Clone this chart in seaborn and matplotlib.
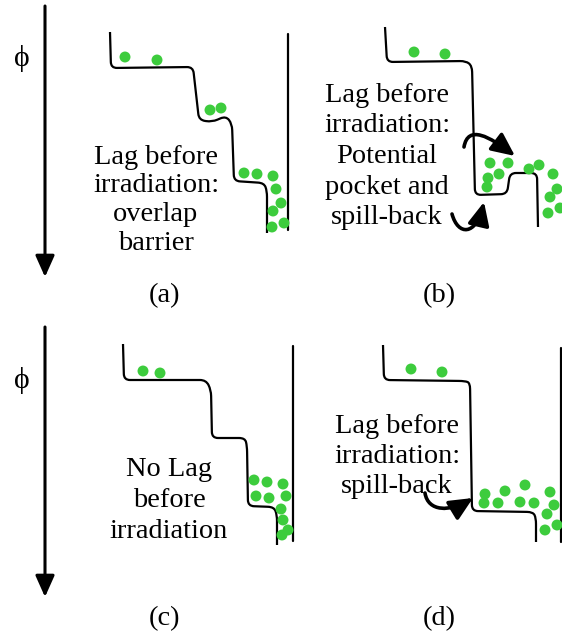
import numpy as np
import pandas as pd
import matplotlib
matplotlib.use("Agg")
import matplotlib.pyplot as plt
from matplotlib.path import Path
from matplotlib.patches import PathPatch, FancyArrowPatch
import seaborn as sns

# ---- drawing canvas is in pixel units (x right, y down) ----
W, H = 562, 643

# potential profiles (corner vertices of each staircase)
profile_a = [(110, 32), (111, 68), (193, 67), (199, 120), (212, 122), (226, 116),
             (232, 124), (234, 181), (264, 183), (267, 191), (267, 233)]
profile_b = [(385, 27), (387, 62), (466, 61), (472, 66), (475, 195), (507, 194),
             (510, 173), (537, 173), (538, 227)]
profile_c = [(123, 344), (124, 380), (206, 380), (211, 390), (212, 438), (245, 438),
             (247, 446), (248, 506), (274, 507), (277, 515), (277, 545)]
profile_d = [(383, 345), (384, 380), (465, 381), (470, 383), (472, 511), (533, 512),
             (536, 518), (536, 542)]

# electrode walls on the right (x, y_top, y_bottom)
walls = {"a": (288, 34, 230), "c": (293, 346, 541), "d": (561, 348, 542)}

# carriers
dots_a_x = [125, 157, 210, 221, 244, 257, 273, 276, 281, 273, 284, 272]
dots_a_y = [57, 60, 110, 108, 173, 174, 176, 189, 203, 211, 223, 227]
dots_b_x = [414, 445, 490, 508, 529, 539, 499, 488, 487, 553, 557, 550, 548, 560]
dots_b_y = [52, 54, 163, 163, 169, 165, 174, 178, 187, 174, 189, 197, 213, 208]
dots_c_x = [143, 160, 254, 267, 283, 256, 269, 286, 281, 283, 288, 282]
dots_c_y = [371, 373, 480, 482, 484, 496, 498, 496, 509, 520, 530, 535]
dots_d_x = [411, 442, 485, 505, 525, 550, 484, 498, 520, 534, 554, 547, 557, 545]
dots_d_y = [369, 372, 494, 491, 485, 492, 503, 503, 502, 503, 505, 514, 525, 530]

# captions: (text lines, centre x, first baseline, line pitch)
captions = [
    (["Lag before", "irradiation:", "overlap", "barrier"], 156, 164, 28.5),
    (["Lag before", "irradiation:", "Potential", "pocket and", "spill-back"], 387, 102, 30.5),
    (["No Lag", "before", "irradiation"], 169, 476, 31),
    (["Lag before", "irradiation:", "spill-back"], 397, 433, 30),
]
panel_labels = ["(a)", "(b)", "(c)", "(d)"]
panel_label_pos = [(164, 302), (439, 302), (164, 625), (439, 625)]

# curved transfer arrows: cubic Bezier control points (start ... tip)
curved_arrows = [
    [(464, 147), (468, 124), (490, 137), (515, 156)],
    [(452, 214), (458, 236), (476, 236), (484, 202)],
    [(425, 493), (428, 512), (450, 512), (473, 498)],
]

# potential axis arrows (x, y_top, y_tip) and phi symbol positions
phi_axes = [(45, 6, 277), (45, 327, 597)]
phi_pos = [(22, 58), (22, 380)]

GREEN = "#3dcc3d"
SERIF = ["Liberation Serif", "DejaVu Serif"]
FS = 20.4


def rounded(points, r=6.0):
    """Polyline with quadratic-Bezier rounded corners."""
    pts = [np.asarray(p, float) for p in points]
    verts, codes = [pts[0]], [Path.MOVETO]
    for i in range(1, len(pts) - 1):
        p0, p, p1 = pts[i - 1], pts[i], pts[i + 1]
        d0, d1 = p - p0, p1 - p
        l0, l1 = np.hypot(*d0), np.hypot(*d1)
        a = p - d0 / l0 * min(r, l0 / 2)
        b = p + d1 / l1 * min(r, l1 / 2)
        verts += [a, p, b]
        codes += [Path.LINETO, Path.CURVE3, Path.CURVE3]
    verts.append(pts[-1])
    codes.append(Path.LINETO)
    return Path(verts, codes)


sns.set_theme(style="white")
plt.rcParams["font.family"] = SERIF
plt.rcParams["text.color"] = "black"

fig = plt.figure(figsize=(W / 100, H / 100), dpi=100)
ax = fig.add_axes([0, 0, 1, 1])
ax.set_xlim(0, W)
ax.set_ylim(H, 0)
ax.axis("off")

# staircase potential profiles
for prof in (profile_a, profile_b, profile_c, profile_d):
    ax.add_patch(PathPatch(rounded(prof), fill=False, lw=1.6, ec="black",
                           capstyle="butt", joinstyle="round"))

# right-hand walls
for x, y0, y1 in walls.values():
    sns.lineplot(x=[x, x], y=[y0, y1], sort=False, estimator=None,
                 color="black", lw=1.6, ax=ax)

# carriers
dots = pd.DataFrame({
    "x": dots_a_x + dots_b_x + dots_c_x + dots_d_x,
    "y": dots_a_y + dots_b_y + dots_c_y + dots_d_y,
})
sns.scatterplot(data=dots, x="x", y="y", s=62, color=GREEN, edgecolor="none",
                ax=ax, zorder=3)

# captions
for lines, cx, y0, pitch in captions:
    for k, line in enumerate(lines):
        ax.text(cx, y0 + k * pitch, line, ha="center", va="baseline",
                fontsize=FS, family=SERIF, color="black")

for lab, (x, y) in zip(panel_labels, panel_label_pos):
    ax.text(x, y, lab, ha="center", va="baseline", fontsize=FS, family=SERIF,
            color="black")

# potential axes
for x, y0, y1 in phi_axes:
    ax.annotate("", xy=(x, y1), xytext=(x, y0),
                arrowprops=dict(arrowstyle="-|>,head_length=13,head_width=5.8",
                                mutation_scale=1, lw=2.2, color="black",
                                shrinkA=0, shrinkB=0))
for x, y in phi_pos:
    ax.text(x, y, "\u03d5", ha="center", va="center", fontsize=FS + 1,
            family=SERIF, color="black")

# curved arrows
for ctrl in curved_arrows:
    path = Path(ctrl, [Path.MOVETO, Path.CURVE4, Path.CURVE4, Path.CURVE4])
    ax.add_patch(FancyArrowPatch(path=path,
                                 arrowstyle="-|>,head_length=14,head_width=6.5",
                                 mutation_scale=1, lw=2.6, color="black",
                                 zorder=4))

fig.savefig("out.png", dpi=100, facecolor="white")
